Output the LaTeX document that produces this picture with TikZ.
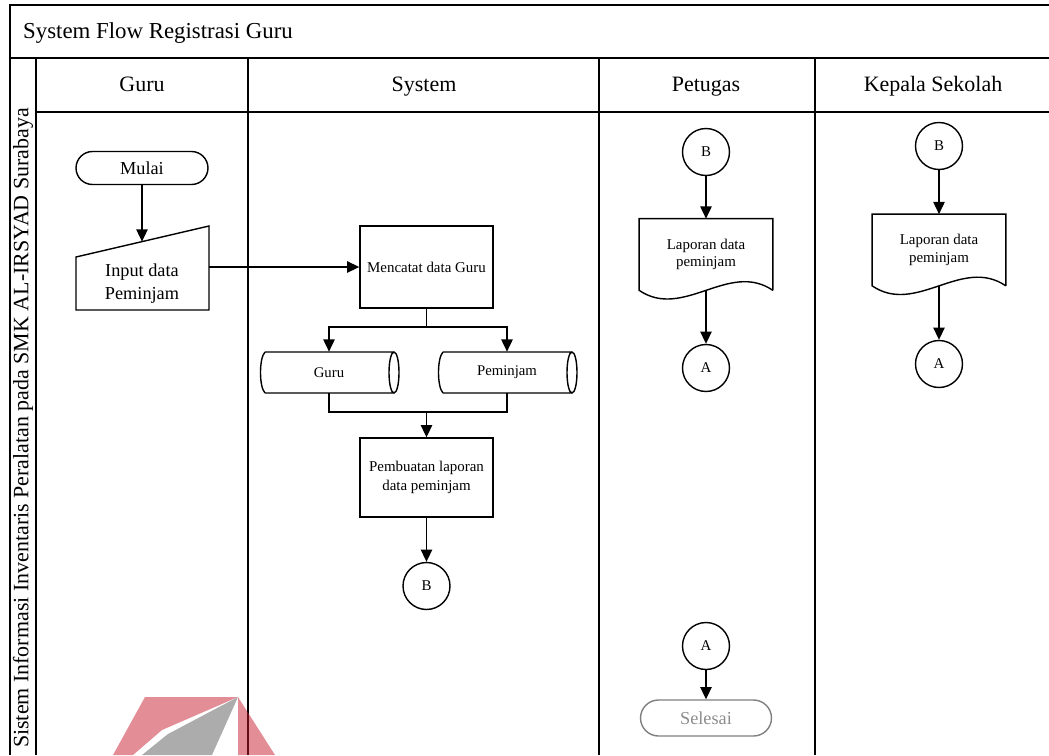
\documentclass[tikz,border=0pt]{standalone}
\usepackage{fontspec}
\setmainfont{Liberation Serif}
\usetikzlibrary{arrows.meta}

\definecolor{logomerah}{RGB}{200,30,45}

\tikzset{
  garis/.style={line width=0.8pt},
  alur/.style={garis,-{Triangle[length=7pt,width=6.5pt]}},
  terminal/.style={draw,garis,rounded corners=0.33cm,minimum width=2.64cm,
    minimum height=0.66cm,font=\fontsize{10.4}{12}\selectfont},
  proses/.style={draw,garis,minimum width=2.66cm,align=center,
    font=\fontsize{8.5}{11}\selectfont},
  simpan/.style={minimum width=2.74cm,minimum height=0.82cm,
    font=\fontsize{8.4}{10}\selectfont},
  dokumen/.style={minimum width=2.66cm,minimum height=1.42cm,align=center,
    font=\fontsize{8.5}{10}\selectfont},
  konektor/.style={draw,garis,circle,minimum size=0.94cm,inner sep=0pt,
    font=\fontsize{8.5}{10}\selectfont},
  judul/.style={anchor=base,font=\fontsize{12.5}{14}\selectfont}
}

\begin{document}
\begin{tikzpicture}[x=0.02cm,y=-0.02cm]
  \useasboundingbox (0,0) rectangle (1049,755);
  % frame and lanes
  \draw[garis] (1049,5) -- (10,5) -- (10,755);
  \draw[garis] (10,58) -- (1049,58);
  \draw[garis] (36,112) -- (1049,112);
  \foreach \x in {36,248,599,815}
    \draw[garis] (\x,58) -- (\x,755);
  \node[anchor=base west,font=\fontsize{13}{15}\selectfont] (title) at (17,38) {System Flow Registrasi Guru};
  \node[judul] (hguru) at (142,91) {Guru};
  \node[judul] (hsystem) at (424,91) {System};
  \node[judul] (hpetugas) at (706,91) {Petugas};
  \node[judul] (hkepala) at (933,91) {Kepala Sekolah};
  \node[font=\fontsize{12.5}{14}\selectfont,rotate=90] (side) at (23,428) {Sistem Informasi Inventaris Peralatan pada SMK AL-IRSYAD Surabaya};

  % Guru
  \node[terminal] (mulai) at (142,168) {Mulai};
  \draw[garis] (76,257) -- (209,226) -- (209,310) -- (76,310) -- cycle;
  \node[align=center,font=\fontsize{10.4}{13}\selectfont] (input) at (142,284) {Input data\\Peminjam};
  \coordinate (inputtop) at (142,241.6);
  \coordinate (inputkanan) at (209,267);
  \draw[alur] (mulai) -- (inputtop);

  % System
  \node[proses,minimum height=1.64cm] (mencatat) at (426.5,267) {Mencatat data Guru};
  \draw[alur] (inputkanan) -- (mencatat);
  \node[simpan] (dbguru) at (329,372.5) {Guru};
  \draw[garis] (265,352) -- (394,352) (265,393) -- (394,393)
    (265,352) .. controls (259,358) and (259,387) .. (265,393)
    (394,372.5) ellipse [x radius=5,y radius=20.5];
  \node[simpan] (dbpinjam) at (507,372.5) {Peminjam};
  \draw[garis] (443,352) -- (572,352) (443,393) -- (572,393)
    (443,352) .. controls (437,358) and (437,387) .. (443,393)
    (572,372.5) ellipse [x radius=5,y radius=20.5];
  \coordinate (cabang) at (426.5,327);
  \coordinate (gabung) at (426.5,412);
  \draw[garis] (mencatat) -- (cabang);
  \draw[alur] (cabang) -| (dbguru);
  \draw[alur] (cabang) -| (dbpinjam);
  \draw[garis] (dbguru) |- (gabung);
  \draw[garis] (dbpinjam) |- (gabung);
  \node[proses,minimum height=1.58cm] (pembuatan) at (426.5,477.5) {Pembuatan laporan\\data peminjam};
  \draw[alur] (gabung) -- (pembuatan);
  \node[konektor] (b1) at (426.5,586) {B};
  \draw[alur] (pembuatan) -- (b1);

  % Petugas
  \node[konektor] (b2) at (706,152) {B};
  \node[dokumen] (lap1) at (706,254.5) {Laporan data\\peminjam};
  \draw[garis] (lap1.south east) -- (lap1.north east) -- (lap1.north west) -- (lap1.south west)
    .. controls +(44,30) and +(-44,-30) .. (lap1.south east);
  \node[konektor] (a1) at (706,368) {A};
  \draw[alur] (b2) -- (lap1);
  \draw[alur] (lap1) -- (a1);
  \node[konektor] (a3) at (706,646) {A};
  \node[terminal,draw=gray,text=gray!90,minimum width=2.62cm,minimum height=0.72cm,rounded corners=0.36cm] (selesai) at (706,718) {Selesai};
  \draw[alur] (a3) -- (selesai);

  % Kepala Sekolah
  \node[konektor] (b3) at (939,146) {B};
  \node[dokumen] (lap2) at (939,250) {Laporan data\\peminjam};
  \draw[garis] (lap2.south east) -- (lap2.north east) -- (lap2.north west) -- (lap2.south west)
    .. controls +(44,30) and +(-44,-30) .. (lap2.south east);
  \node[konektor] (a2) at (939,364) {A};
  \draw[alur] (b3) -- (lap2);
  \draw[alur] (lap2) -- (a2);

  % watermark
  \fill[logomerah,opacity=0.5] (145,697) -- (238,697) -- (162,730) -- (133,755) -- (113,755) -- cycle;
  \fill[logomerah,opacity=0.5] (238,697) -- (275,755) -- (238,755) -- cycle;
  \fill[gray!65] (238,697) -- (212,755) -- (142,755) -- (168,734) -- cycle;
\end{tikzpicture}
\end{document}
